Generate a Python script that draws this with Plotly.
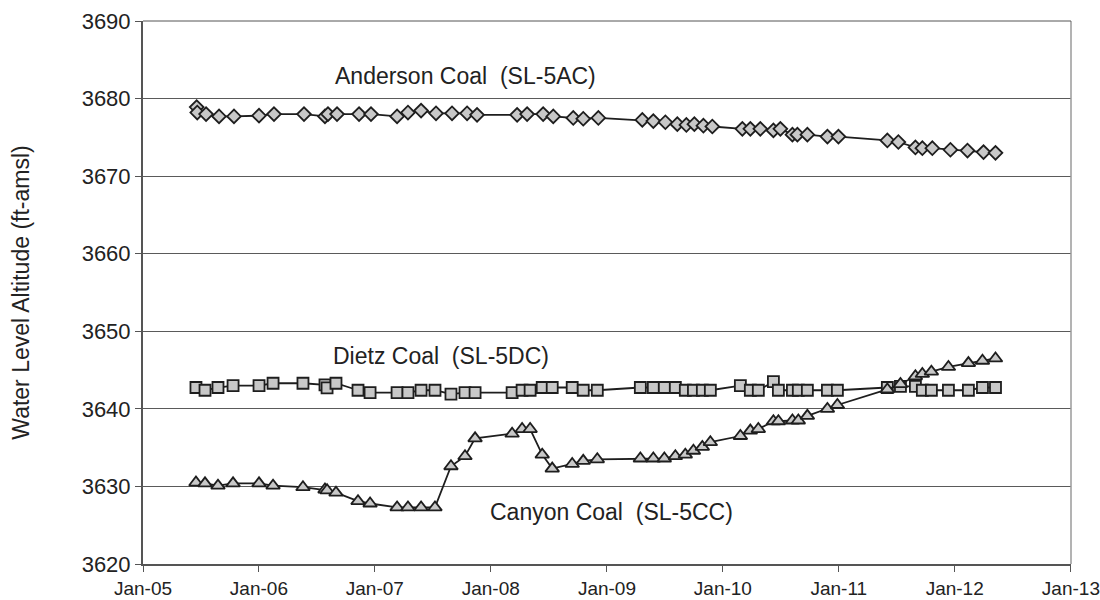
import datetime as dt
import plotly.graph_objects as go

# Sampling dates (decimal years) shared by the Dietz and Canyon wells
SAMPLE_YEARS = [
    2005.457, 2005.535, 2005.647, 2005.777, 2006.001, 2006.122, 2006.380, 2006.570,
    2006.588, 2006.665, 2006.855, 2006.959, 2007.192, 2007.286, 2007.399, 2007.519,
    2007.657, 2007.778, 2007.865, 2008.184, 2008.270, 2008.339, 2008.443, 2008.529,
    2008.701, 2008.796, 2008.917, 2009.288, 2009.400, 2009.495, 2009.590, 2009.676,
    2009.746, 2009.823, 2009.892, 2010.151, 2010.237, 2010.306, 2010.436, 2010.479,
    2010.600, 2010.651, 2010.729, 2010.902, 2010.988, 2011.419, 2011.532, 2011.661,
    2011.721, 2011.799, 2011.946, 2012.118, 2012.239, 2012.351,
]

# Sampling dates (decimal years) for the Anderson well
ANDERSON_YEARS = [
    2005.463, 2005.468, 2005.544, 2005.656, 2005.785, 2006.001, 2006.130, 2006.389,
    2006.570, 2006.596, 2006.674, 2006.864, 2006.967, 2007.192, 2007.286, 2007.399,
    2007.528, 2007.666, 2007.796, 2007.882, 2008.227, 2008.313, 2008.451, 2008.538,
    2008.710, 2008.796, 2008.926, 2009.305, 2009.400, 2009.504, 2009.607, 2009.685,
    2009.754, 2009.832, 2009.909, 2010.168, 2010.237, 2010.323, 2010.436, 2010.496,
    2010.600, 2010.643, 2010.729, 2010.902, 2010.997, 2011.419, 2011.514, 2011.661,
    2011.721, 2011.807, 2011.963, 2012.110, 2012.248, 2012.351,
]

# Water level altitude, ft-amsl
ANDERSON_LEVEL = [
    3678.9, 3678.2, 3678.0, 3677.7, 3677.7, 3677.8, 3678.0, 3678.0,
    3677.7, 3678.0, 3678.0, 3678.0, 3678.0, 3677.7, 3678.2, 3678.45,
    3678.1, 3678.1, 3678.1, 3677.9, 3677.9, 3678.0, 3678.0, 3677.7,
    3677.5, 3677.4, 3677.5, 3677.25, 3677.1, 3676.95, 3676.7, 3676.6,
    3676.7, 3676.5, 3676.4, 3676.1, 3676.1, 3676.1, 3675.9, 3676.1,
    3675.35, 3675.35, 3675.35, 3675.1, 3675.1, 3674.6, 3674.4, 3673.7,
    3673.6, 3673.6, 3673.4, 3673.3, 3673.1, 3673.0,
]

DIETZ_LEVEL = [
    3642.75, 3642.4, 3642.75, 3643.0, 3643.0, 3643.3, 3643.3, 3643.1,
    3642.7, 3643.3, 3642.4, 3642.1, 3642.1, 3642.1, 3642.4, 3642.4,
    3641.9, 3642.1, 3642.1, 3642.1, 3642.4, 3642.4, 3642.75, 3642.75,
    3642.75, 3642.4, 3642.4, 3642.75, 3642.75, 3642.75, 3642.75, 3642.4,
    3642.4, 3642.4, 3642.4, 3643.0, 3642.4, 3642.4, 3643.5, 3642.4,
    3642.4, 3642.4, 3642.4, 3642.4, 3642.4, 3642.75, 3642.9, 3642.9,
    3642.4, 3642.4, 3642.4, 3642.4, 3642.75, 3642.75,
]

CANYON_LEVEL = [
    3630.5, 3630.4, 3630.1, 3630.4, 3630.4, 3630.1, 3629.9, 3629.6,
    3629.5, 3629.2, 3628.1, 3627.8, 3627.3, 3627.3, 3627.3, 3627.3,
    3632.6, 3633.9, 3636.2, 3636.8, 3637.4, 3637.4, 3634.1, 3632.3,
    3632.9, 3633.3, 3633.5, 3633.6, 3633.6, 3633.6, 3633.9, 3634.1,
    3634.6, 3635.1, 3635.7, 3636.5, 3637.2, 3637.4, 3638.4, 3638.4,
    3638.5, 3638.5, 3639.1, 3640.0, 3640.5, 3642.5, 3643.2, 3644.2,
    3644.5, 3644.8, 3645.4, 3645.9, 3646.2, 3646.5,
]

WELL_LABELS = ["Anderson Coal  (SL-5AC)", "Dietz Coal  (SL-5DC)", "Canyon Coal  (SL-5CC)"]
LABEL_YEARS = [2007.78, 2007.57, 2009.04]
LABEL_LEVELS = [3682.9, 3646.8, 3626.75]

TICK_YEARS = list(range(2005, 2014))
TICK_TEXT = ["Jan-05", "Jan-06", "Jan-07", "Jan-08", "Jan-09",
             "Jan-10", "Jan-11", "Jan-12", "Jan-13"]

Y_TITLE = "Water Level Altitude (ft-amsl)"


def to_date(y):
    """Convert a decimal year into a datetime."""
    year = int(y)
    start = dt.datetime(year, 1, 1)
    end = dt.datetime(year + 1, 1, 1)
    return start + (end - start) * (y - year)


FONT = "Liberation Sans, Arial, sans-serif"
FILL = "#c8c8c8"
EDGE = "#1e1e1e"

fig = go.Figure()

series = [
    (ANDERSON_YEARS, ANDERSON_LEVEL, "diamond", 10.5),
    (SAMPLE_YEARS, DIETZ_LEVEL, "square", 11),
    (SAMPLE_YEARS, CANYON_LEVEL, "triangle-up", 12),
]
for years, levels, symbol, size in series:
    fig.add_trace(go.Scatter(
        x=[to_date(y) for y in years],
        y=levels,
        mode="lines+markers",
        line=dict(color=EDGE, width=1.8),
        marker=dict(symbol=symbol, size=size, color=FILL,
                    line=dict(color=EDGE, width=1.8)),
        showlegend=False,
    ))

for text, yr, lvl in zip(WELL_LABELS, LABEL_YEARS, LABEL_LEVELS):
    fig.add_annotation(x=to_date(yr), y=lvl, text=text, showarrow=False,
                       font=dict(family=FONT, size=23, color="#222222"))

# plot-area frame: light right edge, top edge
fig.add_shape(type="line", xref="x domain", yref="y domain", x0=1, x1=1, y0=0, y1=1,
              line=dict(color="#9a9a9a", width=1.5))
fig.add_shape(type="line", xref="x domain", yref="y domain", x0=0, x1=1, y0=1, y1=1,
              line=dict(color="#555555", width=1))

fig.update_layout(
    width=1100, height=600,
    margin=dict(l=143, r=29, t=21, b=36),
    paper_bgcolor="white", plot_bgcolor="white",
    font=dict(family=FONT, size=22, color="#222222"),
)
fig.update_xaxes(
    range=[dt.datetime(2005, 1, 1), dt.datetime(2013, 1, 1, 6)],
    tickmode="array",
    tickvals=[dt.datetime(y, 1, 1) for y in TICK_YEARS],
    ticktext=TICK_TEXT,
    showgrid=False, showline=True, linecolor="#555555", linewidth=2,
    ticks="outside", ticklen=6, tickcolor="#555555", tickwidth=1,
    tickfont=dict(size=19), automargin=False,
)
fig.update_yaxes(
    range=[3620, 3690], dtick=10,
    showgrid=True, gridcolor="#5a5a5a", gridwidth=1,
    showline=True, linecolor="#555555", linewidth=2,
    ticks="outside", ticklen=6, tickcolor="#555555", tickwidth=1,
    zeroline=False, automargin=False,
    title=dict(text=Y_TITLE, font=dict(size=23), standoff=46),
)

fig.write_html("out.html")
